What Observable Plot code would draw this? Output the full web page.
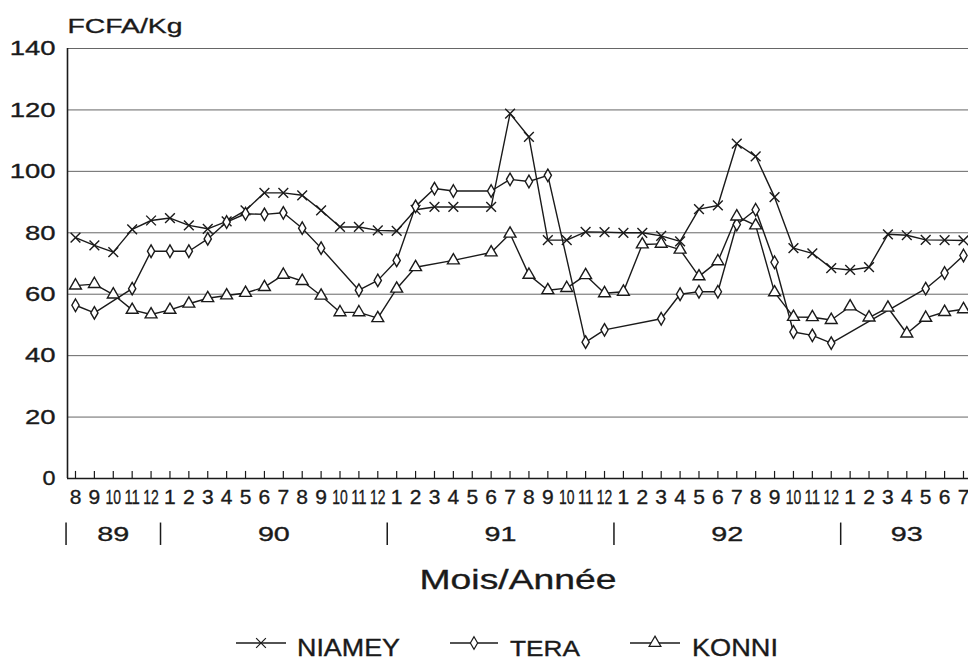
<!DOCTYPE html>
<html><head><meta charset="utf-8">
<script src="https://cdn.jsdelivr.net/npm/d3@7"></script>
<script src="https://cdn.jsdelivr.net/npm/@observablehq/plot@0.6"></script>
<style>
body{margin:0;background:#fff;width:968px;height:660px;overflow:hidden;font-family:"Liberation Sans",Arial,sans-serif}
#chart svg,#legend svg{display:block}
#chart text,#legend text{stroke:#1a1a1a;stroke-width:0.35px}
</style></head><body><div id="chart"></div><div id="legend"></div><script>
// ---- data ----
const monthLabels = ["8","9","10","11","12",
  "1","2","3","4","5","6","7","8","9","10","11","12",
  "1","2","3","4","5","6","7","8","9","10","11","12",
  "1","2","3","4","5","6","7","8","9","10","11","12",
  "1","2","3","4","5","6","7"];
const years = ["89","90","91","92","93"];
const yearMonthCounts = [5,12,12,12,7];
const yTicks = [0,20,40,60,80,100,120,140];
const seriesNames = ["NIAMEY","TERA","KONNI"];
const niamey = [78.4,75.9,73.7,81.1,84.0,84.8,82.4,81.3,83.7,87.3,93.0,93.0,92.2,87.3,81.9,81.9,80.8,80.6,87.5,88.4,88.4,null,88.4,118.8,111.2,77.6,77.6,80.3,80.2,80.0,80.0,79.0,77.2,87.7,88.9,109.0,104.9,91.6,75.0,73.3,68.5,67.9,68.8,79.5,79.2,77.7,77.6,77.5];
const tera = [56.4,53.9,null,61.8,74.0,74.0,74.0,78.0,83.5,86.2,86.0,86.5,81.5,75.0,null,61.3,64.5,71.0,88.6,94.4,93.6,null,93.6,97.4,96.7,98.7,null,44.4,48.4,null,null,52.0,60.0,60.8,60.8,82.7,87.5,70.4,47.7,46.6,44.1,null,null,null,null,61.8,66.9,72.6];
const konni = [62.8,63.3,59.9,54.9,53.4,54.9,56.9,58.7,59.6,60.4,62.3,66.3,64.3,59.5,54.1,54.1,52.2,61.8,68.8,null,71.0,null,73.6,79.7,66.3,61.3,62.0,66.2,60.3,60.8,76.2,76.4,74.5,65.8,70.7,85.3,82.4,60.6,52.6,52.5,51.6,56.0,52.4,55.6,47.2,52.3,54.2,55.1];

// ---- build ----
const ink = "#1a1a1a";
const xDomain = [-0.423, 47.265];
const rows = arr => arr.map((v,i)=>({i, v})).filter(d => d.v != null);
const N = rows(niamey), T = rows(tera), K = rows(konni);
const idx = monthLabels.map((m,i)=>({i, m}));
let s0 = 0;
const yearRows = years.map((y,k)=>{const s=s0; s0+=yearMonthCounts[k]; return {y, start:s, mid:s+(yearMonthCounts[k]-1)/2};});
const symbols = {NIAMEY:{symbol:"times", r:4.5}, TERA:{symbol:"diamond", r:3.8}, KONNI:{symbol:"triangle", r:4.4}};

const chart = Plot.plot({
  width: 968, height: 610,
  marginLeft: 67, marginRight: 0, marginTop: 48, marginBottom: 132,
  x: {domain: xDomain, axis: null},
  y: {domain: [0,140], axis: null},
  style: {fontFamily: "'Liberation Sans', Arial, sans-serif", background: "white", color: ink, overflow: "visible"},
  marks: [
    Plot.ruleY(yTicks.filter(d => d > 0), {stroke: "#666", strokeWidth: 1}),
    Plot.ruleY([0], {stroke: ink, strokeWidth: 1.6}),
    Plot.ruleX([xDomain[0]], {stroke: ink, strokeWidth: 1.6}),
    Plot.ruleX(idx, {x: "i", y1: 0, y2: 2.3, stroke: ink, strokeWidth: 1.2}),
    Plot.ruleX(yearRows, {x: d => d.start - 0.5, y1: -14.5, y2: -21.8, stroke: ink, strokeWidth: 1.5}),
    Plot.line(N, {x: "i", y: "v", stroke: ink, strokeWidth: 1.4}),
    Plot.line(T, {x: "i", y: "v", stroke: ink, strokeWidth: 1.4}),
    Plot.line(K, {x: "i", y: "v", stroke: ink, strokeWidth: 1.4}),
    Plot.dot(N, {x: "i", y: "v", symbol: symbols.NIAMEY.symbol, r: symbols.NIAMEY.r, stroke: ink, strokeWidth: 1.4}),
    Plot.dot(T, {x: "i", y: "v", symbol: symbols.TERA.symbol, r: symbols.TERA.r, stroke: ink, fill: "white", strokeWidth: 1.4}),
    Plot.dot(K, {x: "i", y: "v", symbol: symbols.KONNI.symbol, r: symbols.KONNI.r, stroke: ink, fill: "white", strokeWidth: 1.4}),
    Plot.text(yTicks, {y: d => d, text: d => String(d), frameAnchor: "left", lineAnchor: "middle", dx: -12, textAnchor: "end", fontSize: 21, fill: ink}),
    Plot.text(idx, {x: "i", text: "m", frameAnchor: "bottom", lineAnchor: "middle", dy: 19, fontSize: 21, fill: ink}),
    Plot.text(yearRows, {x: "mid", text: "y", frameAnchor: "bottom", lineAnchor: "middle", dy: 56, fontSize: 21, fill: ink}),
    Plot.text(["FCFA/Kg"], {text: d => d, frameAnchor: "top-left", lineAnchor: "middle", dy: -22, textAnchor: "start", fontSize: 21, fill: ink}),
    Plot.text(["Mois/Année"], {text: d => d, frameAnchor: "bottom", lineAnchor: "middle", dy: 102, fontSize: 28, fill: ink})
  ]
});
document.getElementById("chart").appendChild(chart);

// horizontally scale texts to the widths seen in the scanned original (y position untouched)
function stretch(t, target) {
  const w = t.getComputedTextLength();
  if (!w || !target) return;
  const k = target / w;
  const xa = t.getAttribute("x");
  if (xa != null && !isNaN(+xa)) t.setAttribute("x", (+xa) / k);
  const tr = t.getAttribute("transform") || "";
  t.setAttribute("transform", `${tr} scale(${k},1)`);
}
const tg = chart.querySelectorAll('g[aria-label="text"]');
const setLen = (g, f) => { if (!g) return; g.querySelectorAll("text").forEach(t => stretch(t, f(t.textContent))); };
setLen(tg[0], s => s.length === 1 ? 13 : s.length * 15.3);
setLen(tg[1], s => s.length === 2 ? 15.5 : null);
setLen(tg[2], s => 32);
setLen(tg[3], s => 115);
setLen(tg[4], s => 197);

// ---- legend ----
const legendItems = [
  {name: "NIAMEY", x1: 236, x2: 286, tx: 297, tl: 103},
  {name: "TERA", x1: 450, x2: 498, tx: 510, tl: 70},
  {name: "KONNI", x1: 630, x2: 680, tx: 692, tl: 86}
];
const lg = d3.select("#legend").append("svg").attr("width", 968).attr("height", 50);
legendItems.forEach(it => {
  const sy = symbols[it.name];
  lg.append("line").attr("x1", it.x1).attr("x2", it.x2).attr("y1", 33).attr("y2", 33).attr("stroke", ink).attr("stroke-width", 1.3);
  lg.append("path").attr("transform", `translate(${(it.x1+it.x2)/2},33)`)
    .attr("d", d3.symbol(sy.symbol === "times" ? d3.symbolTimes : sy.symbol === "diamond" ? d3.symbolDiamond : d3.symbolTriangle, sy.r*sy.r*Math.PI)())
    .attr("fill", sy.symbol === "times" ? "none" : "white").attr("stroke", ink).attr("stroke-width", 1.2);
  const t = lg.append("text").attr("x", it.tx).attr("y", 46).attr("font-size", 23).attr("fill", ink)
    .attr("font-family", "'Liberation Sans', Arial, sans-serif").text(it.name);
  stretch(t.node(), it.tl);
});
</script></body></html>
